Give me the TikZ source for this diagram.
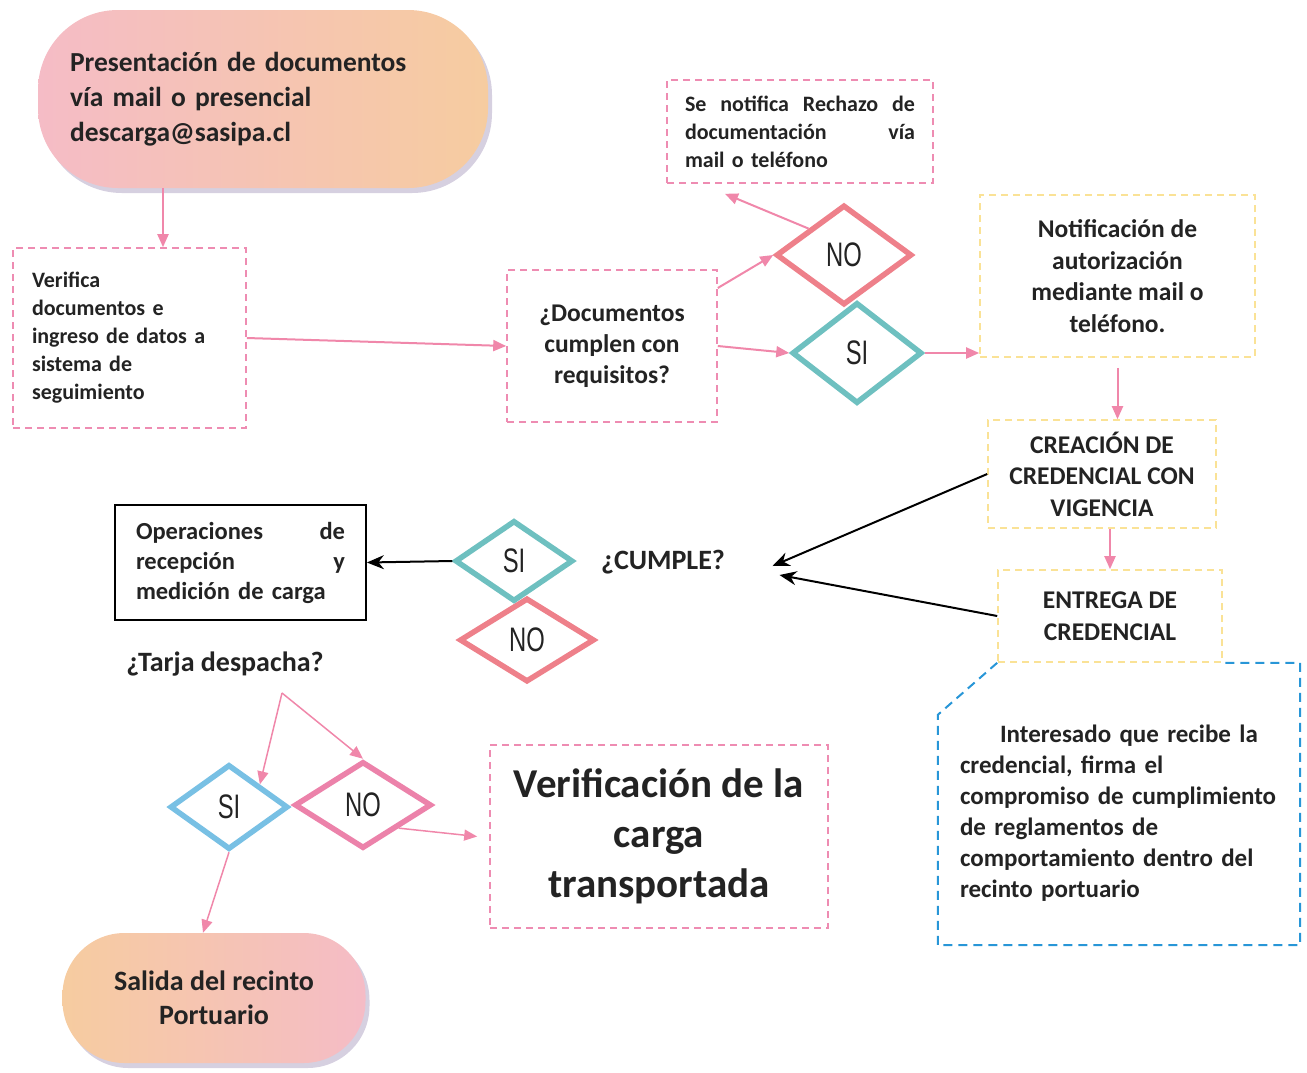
\documentclass[tikz,border=0pt]{standalone}
\usepackage{fontspec}
\setmainfont{Carlito}
\newfontfamily\narrowfont[FakeStretch=0.7]{Liberation Sans}
\usetikzlibrary{shapes.geometric,arrows.meta,shadows}

% Colours
\definecolor{boxpink}{RGB}{238,140,178}
\definecolor{arrowpink}{RGB}{240,135,170}
\definecolor{boxyellow}{RGB}{250,226,150}
\definecolor{nosalmon}{RGB}{238,128,138}
\definecolor{nopink}{RGB}{236,130,170}
\definecolor{siteal}{RGB}{110,192,192}
\definecolor{siblue}{RGB}{120,192,228}
\definecolor{calloutblue}{RGB}{40,150,215}
\definecolor{pillpink}{RGB}{245,188,198}
\definecolor{pillpeach}{RGB}{246,204,160}
\definecolor{pillshadow}{RGB}{214,208,224}
\definecolor{inkgray}{RGB}{35,35,35}

% Styles
\tikzset{
  pillbox/.style={rounded corners=80pt, inner sep=0pt, text=inkgray,
    drop shadow={shadow xshift=4pt, shadow yshift=-5pt, fill=pillshadow, opacity=1}},
  pinkbox/.style={draw=boxpink, line width=1.6pt, dash pattern=on 7pt off 5pt, text=inkgray},
  yellowbox/.style={draw=boxyellow, line width=1.6pt, dash pattern=on 7pt off 5pt, text=inkgray},
  decision/.style={diamond, inner sep=0pt, line width=5.5pt, fill=white,
    font=\narrowfont\fontsize{34}{34}\selectfont, text=inkgray},
  flow/.style={draw=arrowpink, line width=2pt, -{Triangle[length=13pt,width=11pt]}},
  thinflow/.style={flow, line width=1.5pt},
  blackflow/.style={draw=black, line width=2pt, -{Stealth[length=17pt,width=14pt]}},
}

\begin{document}
\begin{tikzpicture}[x=1pt, y=-1pt, font=\bfseries]
    \useasboundingbox (0,0) rectangle (1307,1072);

    % Start and end
    \node[pillbox, left color=pillpink, middle color=pillpink, right color=pillpeach, minimum width=450pt, minimum height=178pt,
      text width=386pt, align=left, font=\bfseries\fontsize{27.5}{35}\selectfont] (start) at (263,99)
      {Presentación de documentos\\vía mail o presencial\\descarga@sasipa.cl};
    \node[pillbox, rounded corners=62pt, left color=pillpeach, middle color=pillpink, right color=pillpink,
      minimum width=303pt, minimum height=130pt,
      align=center, font=\bfseries\fontsize{28}{34}\selectfont] (salida) at (214,998)
      {Salida del recinto\\Portuario};

    % Boxes
    \node[pinkbox, minimum width=233pt, minimum height=180pt, inner xsep=19pt, text width=195pt, align=left,
      font=\bfseries\fontsize{22}{28}\selectfont] (verifica) at (129.5,338)
      {Verifica\\documentos e\\ingreso de datos a\\sistema de\\seguimiento};
    \node[pinkbox, minimum width=210pt, minimum height=152pt, align=center,
      font=\bfseries\fontsize{25.5}{31}\selectfont] (docs) at (612,346)
      {¿Documentos\\cumplen con\\requisitos?};
    \node[pinkbox, minimum width=266pt, minimum height=103pt, inner xsep=18pt, text width=230pt, align=left,
      font=\bfseries\fontsize{22}{28}\selectfont] (rechazo) at (800,131.5)
      {Se\hfill notifica\hfill Rechazo\hfill de\\documentación\hfill vía\\mail o teléfono};
    \node[yellowbox, minimum width=275pt, minimum height=162pt, align=center,
      font=\bfseries\fontsize{25.5}{31.5}\selectfont] (notif) at (1117.5,276)
      {Notificación de\\autorización\\mediante mail o\\teléfono.};
    \node[yellowbox, minimum width=228pt, minimum height=108pt, align=center,
      font=\bfseries\fontsize{25.5}{31.5}\selectfont] (crea) at (1102,474)
      {CREACIÓN DE\\CREDENCIAL CON\\VIGENCIA};
    \node[yellowbox, minimum width=224pt, minimum height=92pt, align=center,
      font=\bfseries\fontsize{25.5}{32}\selectfont] (entrega) at (1110,616)
      {ENTREGA DE\\CREDENCIAL};
    \node[draw=black, line width=1.8pt, minimum width=251pt, minimum height=115pt, inner xsep=21pt, text width=209pt,
      align=left, text=inkgray, font=\bfseries\fontsize{24.5}{30}\selectfont] (oper) at (240.5,562.5)
      {Operaciones\hfill de\\recepción\hfill y\\medición de carga};
    \node[pinkbox, minimum width=338pt, minimum height=183pt, align=center,
      font=\bfseries\fontsize{41}{50}\selectfont] (verif) at (659,836.5)
      {Verificación de la\\carga\\transportada};
    \node[minimum width=362pt, minimum height=230pt] (callout) at (1119,830) {};
    \node[anchor=north west, inner sep=0pt, text width=330pt, align=left, text=inkgray,
      font=\bfseries\fontsize{25}{31}\selectfont] (calltext) at ([xshift=22pt,yshift=-10pt]callout.north west)
      {\hspace*{40pt}Interesado que recibe la\\credencial, firma el\\compromiso de cumplimiento\\de reglamentos de\\comportamiento dentro del\\recinto portuario};

    % Labels
    \node[text=inkgray, font=\bfseries\fontsize{28}{30}\selectfont] (cumple) at (663,562) {¿CUMPLE?};
    \node[text=inkgray, font=\bfseries\fontsize{28}{30}\selectfont] (tarja) at (225,664) {¿Tarja despacha?};
    \coordinate (fork) at (282,693);

    % Decisions
    \node[decision, draw=nosalmon, minimum width=136pt, minimum height=100pt] (no1) at (844,255) {NO};
    \node[decision, draw=siteal, minimum width=130pt, minimum height=101pt] (si1) at (857,353) {SI};
    \node[decision, draw=nosalmon, minimum width=135pt, minimum height=84pt] (no2) at (527,640) {NO};
    \node[decision, draw=siteal, minimum width=118pt, minimum height=81pt] (si2) at (514,561) {SI};
    \node[decision, draw=siblue, minimum width=118pt, minimum height=85pt] (si3) at (229,807) {SI};
    \node[decision, draw=nopink, minimum width=137pt, minimum height=87pt] (no3) at (363,805) {NO};

    % Callout frame
    \draw[draw=calloutblue, line width=2pt, dash pattern=on 9pt off 6pt]
      (entrega.south west) -- (callout.north west) -- (callout.south west) -- (callout.south east)
      -- (callout.east |- entrega.south) -- (entrega.south east);

    % Connectors
    \draw[flow] ([xshift=-100pt]start.south) -- ([xshift=-100pt]start.south |- verifica.north);
    \draw[flow] (verifica.east) -- (docs.west);
    \draw[flow] ([yshift=58pt]docs.east) -- (no1.west);
    \draw[flow] (docs.east) -- (si1.west);
    \draw[flow] (no1.north west) -- ([xshift=-75pt,yshift=-10pt]rechazo.south);
    \draw[flow] (si1.east) -- (si1.east -| notif.west);
    \draw[flow] ([yshift=-10pt]notif.south) -- (notif.south |- crea.north);
    \draw[flow] (entrega.north |- crea.south) -- (entrega.north);
    \draw[blackflow] (crea.west) -- ([xshift=44pt,yshift=-4pt]cumple.east);
    \draw[blackflow] (entrega.west) -- ([xshift=51pt,yshift=-13pt]cumple.east);
    \draw[blackflow] (si2.west) -- (oper.east);
    \draw[thinflow] (fork) -- (si3.north east);
    \draw[thinflow] (fork) -- (no3.north);
    \draw[thinflow] (no3.south east) -- ([xshift=-12pt]verif.west);
    \draw[thinflow] (si3.south) -- ([xshift=-11pt]salida.north);
\end{tikzpicture}
\end{document}
